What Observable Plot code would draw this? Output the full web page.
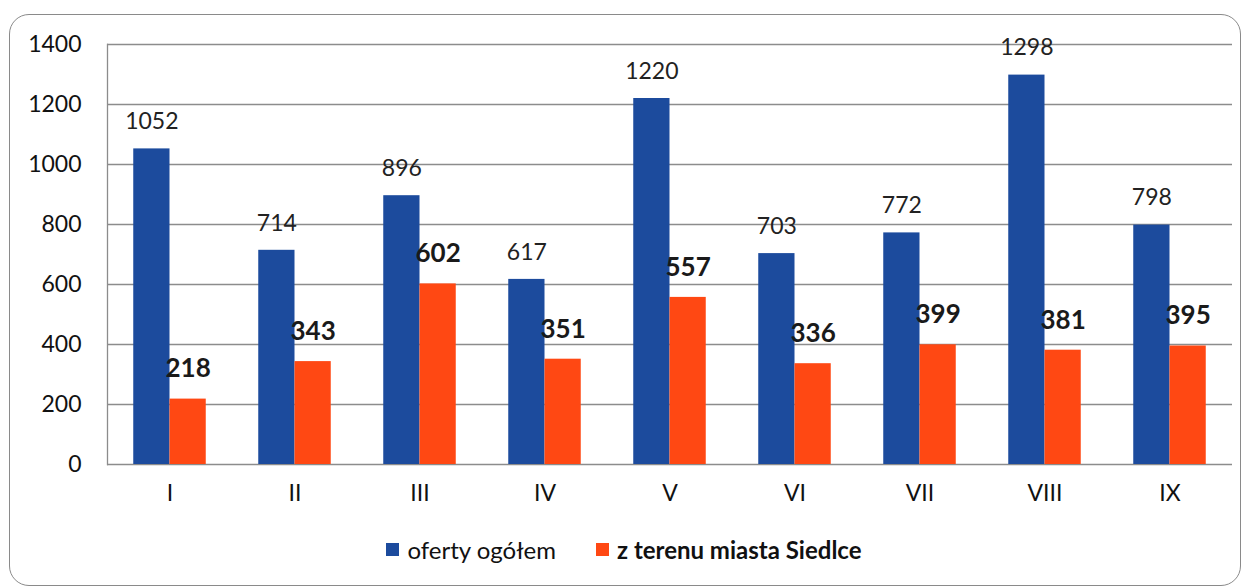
<!DOCTYPE html>
<html>
<head>
<meta charset="utf-8">
<script src="https://cdn.jsdelivr.net/npm/d3@7"></script>
<script src="https://cdn.jsdelivr.net/npm/@observablehq/plot@0.6"></script>
<style>
  html, body { margin: 0; padding: 0; background: #fff; }
  body { width: 1248px; height: 587px; position: relative; overflow: hidden; font-family: Lato, "Open Sans", sans-serif; }
  #frame { position: absolute; left: 9px; top: 14px; width: 1232px; height: 572px; border: 1.5px solid #8a8a8a; border-radius: 20px; box-sizing: border-box; }
  #chart { position: absolute; left: 0; top: 0; }
  #legend { position: absolute; left: 0; top: 535px; width: 1248px; display: flex; justify-content: center; align-items: center; font-size: 24px; color: #111; }
  .item { display: flex; align-items: center; }
  .sw { width: 13px; height: 13px; display: inline-block; margin-right: 8px; }
</style>
</head>
<body>
<div id="frame"></div>
<div id="chart"></div>
<div id="legend"></div>
<script>
const months = ["I", "II", "III", "IV", "V", "VI", "VII", "VIII", "IX"];
const seriesNames = ["oferty ogółem", "z terenu miasta Siedlce"];
const totalOffers = [1052, 714, 896, 617, 1220, 703, 772, 1298, 798];
const cityOffers = [218, 343, 602, 351, 557, 336, 399, 381, 395];
const yTicks = [0, 200, 400, 600, 800, 1000, 1200, 1400];
const colors = ["#1c4b9d", "#ff4813"];

const totalData = months.map((m, i) => ({month: m, value: totalOffers[i]}));
const cityData = months.map((m, i) => ({month: m, value: cityOffers[i]}));

const W = 1248, H = 520;
const mL = 107, mR = 16;
const band = (W - mL - mR) / months.length;
const barW = band * 0.29;
const gap = (band - 2 * barW) / 2;

const chart = Plot.plot({
  width: W,
  height: H,
  marginLeft: mL,
  marginRight: mR,
  marginTop: 44,
  marginBottom: 56,
  style: {fontFamily: "Lato, 'Open Sans', sans-serif", fontSize: "23px", color: "#111", background: "transparent"},
  x: {domain: months, padding: 0, label: null},
  y: {domain: [0, 1400], label: null},
  marks: [
    Plot.ruleY(yTicks, {stroke: "#8c8c8c", strokeWidth: 1.3}),
    Plot.frame({anchor: "left", stroke: "#8c8c8c", strokeWidth: 1.3}),
    Plot.barY(totalData, {x: "month", y: "value", fill: colors[0], insetLeft: gap, insetRight: gap + barW}),
    Plot.barY(cityData, {x: "month", y: "value", fill: colors[1], insetLeft: gap + barW, insetRight: gap}),
    Plot.text(totalData, {x: "month", y: "value", text: d => String(d.value), dx: -barW / 2, dy: -27, fontSize: 23, fill: "#222"}),
    Plot.text(cityData, {x: "month", y: "value", text: d => String(d.value), dx: barW / 2, dy: -30, fontSize: 26, fontWeight: "bold", fill: "#1a1a1a"}),
    Plot.axisY({ticks: yTicks, tickSize: 0, tickPadding: 26, tickFormat: d => String(d), label: null, fontSize: 23}),
    Plot.axisX({tickSize: 0, tickPadding: 20, label: null, fontSize: 23})
  ]
});
document.getElementById("chart").appendChild(chart);

const legend = document.getElementById("legend");
seriesNames.forEach((name, i) => {
  const item = document.createElement("span");
  item.className = "item";
  item.style.marginRight = i === 0 ? "40px" : "0";
  const sw = document.createElement("span");
  sw.className = "sw";
  sw.style.background = colors[i];
  const label = document.createElement("span");
  label.textContent = name;
  if (i === 1) label.style.fontWeight = "bold";
  item.appendChild(sw);
  item.appendChild(label);
  legend.appendChild(item);
});
</script>
</body>
</html>
